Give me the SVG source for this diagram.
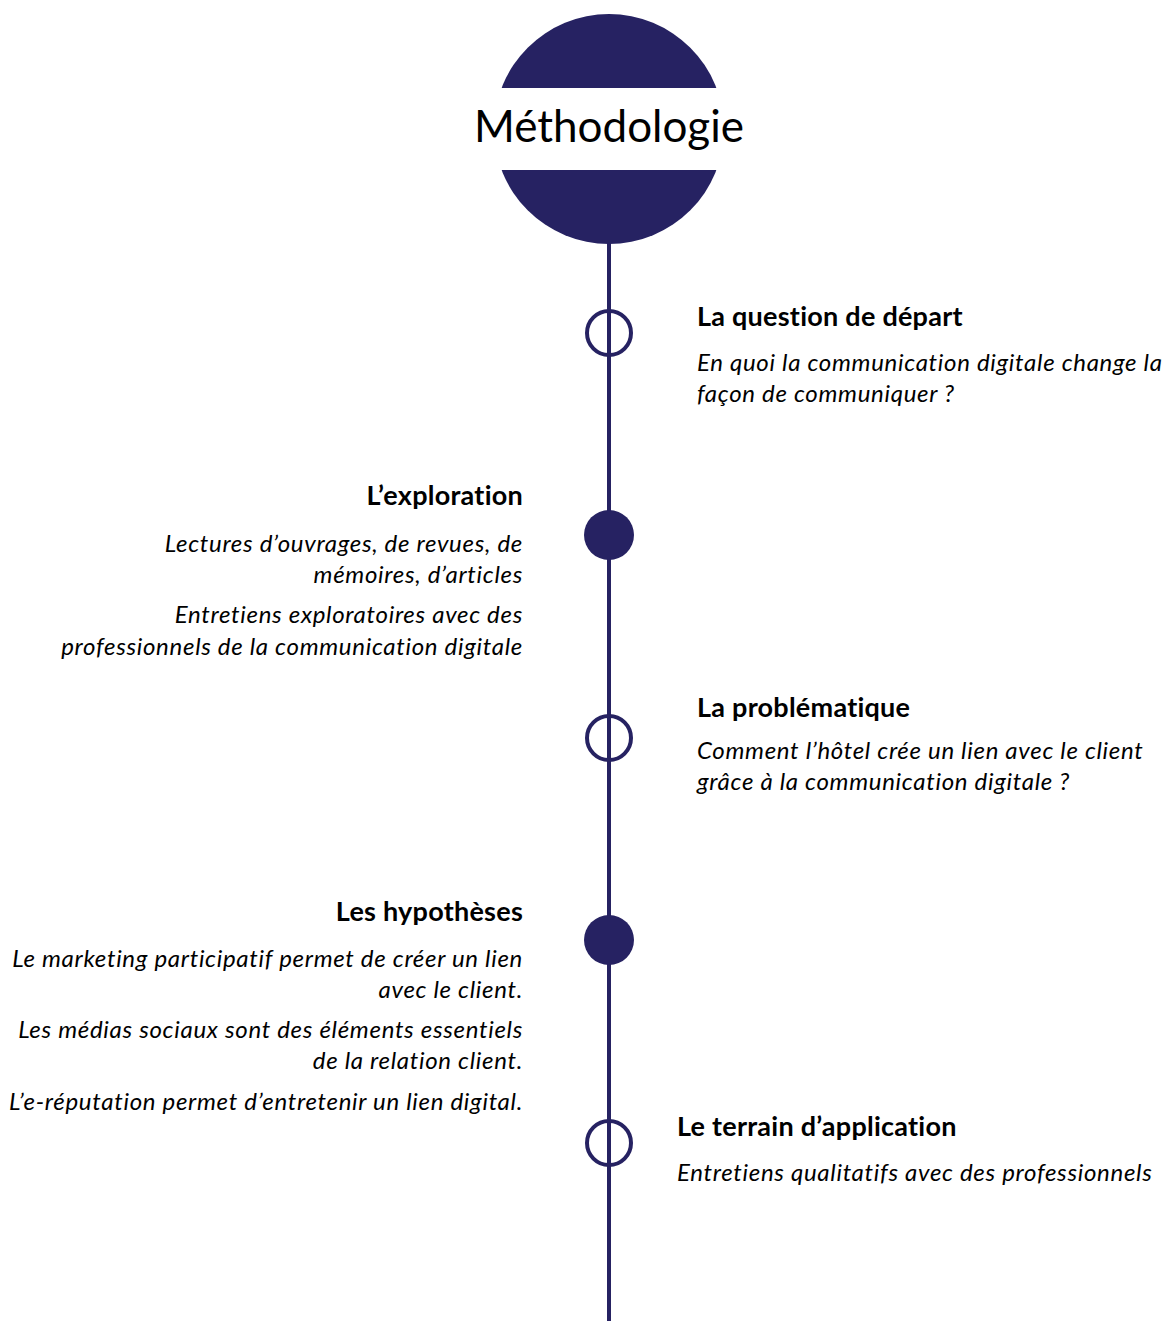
<svg xmlns="http://www.w3.org/2000/svg" width="1168" height="1321" viewBox="0 0 1168 1321">
  <style>
    .h { font-family: Lato, "Open Sans", sans-serif; font-weight: bold; font-size: 27px; letter-spacing: 0.25px; fill: #000; }
    .t { font-family: Lato, "Open Sans", sans-serif; font-style: italic; font-size: 24px; letter-spacing: 0.7px; fill: #000; }
    .r { text-anchor: end; }
    .open { fill: #fff; stroke: #262262; stroke-width: 4; }
    .full { fill: #262262; }
  </style>
  <rect width="1168" height="1321" fill="#fff"/>

  <!-- timeline spine -->
  <g id="connectors">
    <line x1="609" y1="230" x2="609" y2="1321" stroke="#262262" stroke-width="4"/>
  </g>

  <!-- title disc with white band -->
  <g id="title">
    <circle cx="609" cy="129" r="115" fill="#262262"/>
    <rect x="467" y="88" width="283" height="82" fill="#fff"/>
    <text x="609" y="142" text-anchor="middle" font-family="Lato, 'Open Sans', sans-serif" font-size="44" fill="#000">Méthodologie</text>
  </g>

  <g id="step1">
    <circle class="open" cx="609" cy="333" r="22"/>
    <line x1="609" y1="311" x2="609" y2="355" stroke="#262262" stroke-width="4"/>
    <text class="h" x="697" y="326">La question de départ</text>
    <text class="t" x="697" y="371">En quoi la communication digitale change la</text>
    <text class="t" x="697" y="402">façon de communiquer ?</text>
  </g>

  <g id="step2">
    <circle class="full" cx="609" cy="535" r="25"/>
    <text class="h r" x="523" y="505">L’exploration</text>
    <text class="t r" x="523" y="552">Lectures d’ouvrages, de revues, de</text>
    <text class="t r" x="523" y="583">mémoires, d’articles</text>
    <text class="t r" x="523" y="623">Entretiens exploratoires avec des</text>
    <text class="t r" x="523" y="655">professionnels de la communication digitale</text>
  </g>

  <g id="step3">
    <circle class="open" cx="609" cy="738" r="22"/>
    <line x1="609" y1="716" x2="609" y2="760" stroke="#262262" stroke-width="4"/>
    <text class="h" x="697" y="717">La problématique</text>
    <text class="t" x="697" y="759">Comment l’hôtel crée un lien avec le client</text>
    <text class="t" x="697" y="790">grâce à la communication digitale ?</text>
  </g>

  <g id="step4">
    <circle class="full" cx="609" cy="940" r="25"/>
    <text class="h r" x="523" y="921">Les hypothèses</text>
    <text class="t r" x="523" y="967">Le marketing participatif permet de créer un lien</text>
    <text class="t r" x="523" y="998">avec le client.</text>
    <text class="t r" x="523" y="1038">Les médias sociaux sont des éléments essentiels</text>
    <text class="t r" x="523" y="1069">de la relation client.</text>
    <text class="t r" x="523" y="1110">L’e-réputation permet d’entretenir un lien digital.</text>
  </g>

  <g id="step5">
    <circle class="open" cx="609" cy="1143" r="22"/>
    <line x1="609" y1="1121" x2="609" y2="1165" stroke="#262262" stroke-width="4"/>
    <text class="h" x="677" y="1136">Le terrain d’application</text>
    <text class="t" x="677" y="1181">Entretiens qualitatifs avec des professionnels</text>
  </g>
</svg>
